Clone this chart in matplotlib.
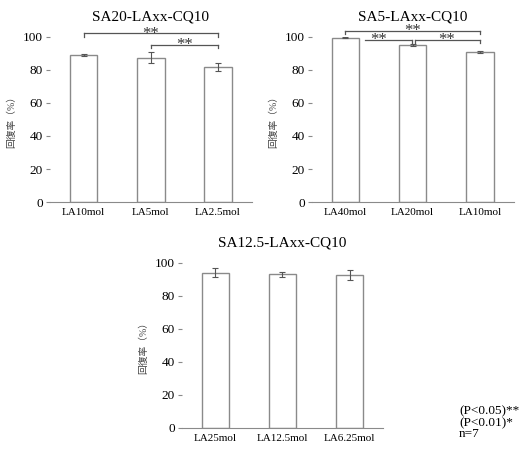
import matplotlib
matplotlib.use("Agg")
import matplotlib.pyplot as plt

plt.rcParams['font.family'] = ['Liberation Serif', 'Noto Sans CJK JP']

# data
titles = ["SA20-LAxx-CQ10", "SA5-LAxx-CQ10", "SA12.5-LAxx-CQ10"]
labels_a = ["LA10mol", "LA5mol", "LA2.5mol"]
values_a = [89.0, 87.4, 81.8]
errors_a = [0.8, 3.3, 2.5]

labels_b = ["LA40mol", "LA20mol", "LA10mol"]
values_b = [99.5, 95.2, 90.8]
errors_b = [0.3, 0.8, 0.6]

labels_c = ["LA25mol", "LA12.5mol", "LA6.25mol"]
values_c = [94.0, 93.0, 92.6]
errors_c = [2.7, 1.7, 3.0]

# significance brackets: (x start, x end, y, tick at start, tick at end, star x)
brackets_a = [(0, 2, 102.2, True, True, 1.0), (1, 2, 95.2, True, True, 1.5)]
brackets_b = [(0, 2, 103.6, True, True, 1.0), (0.29, 0.99, 98.2, False, True, 0.5),
              (1.03, 2, 98.2, True, True, 1.5)]

ylabel = "回復率（%）"
gray = "#8a8a8a"


def draw(ax, title, labels, values, errors, brackets=()):
    x = range(len(values))
    ax.bar(x, values, width=0.41, color="white", edgecolor=gray, linewidth=1.0)
    ax.errorbar(x, values, yerr=errors, fmt="none", ecolor="#555555",
                elinewidth=0.8, capsize=2, capthick=0.8)
    ax.set_xlim(-0.5, 2.5)
    ax.set_ylim(0, 100)
    ax.set_yticks(range(0, 101, 20))
    ax.set_xticks(list(x))
    ax.set_xticklabels(labels, fontsize=8)
    ax.tick_params(axis="x", length=0, pad=4)
    ax.tick_params(axis="y", length=3, color=gray, labelsize=9.5, pad=2)
    for s in ["top", "right", "left"]:
        ax.spines[s].set_visible(False)
    ax.spines["bottom"].set_color(gray)
    ax.set_ylabel(ylabel, fontsize=7, color="#444444", labelpad=5)
    ax.set_title(title, fontsize=11, pad=12)
    for x0, x1, y, t0, t1, sx in brackets:
        ax.plot([x0, x1], [y, y], color="#555555", lw=0.9, clip_on=False)
        if t0:
            ax.plot([x0, x0], [y, y - 2], color="#555555", lw=0.9, clip_on=False)
        if t1:
            ax.plot([x1, x1], [y, y - 2], color="#555555", lw=0.9, clip_on=False)
        ax.text(sx, y - 2.6, "**", ha="center", va="baseline", fontsize=12,
                color="#333333")


fig = plt.figure(figsize=(5.24, 4.5), dpi=100)
ax1 = fig.add_axes([0.0954, 0.551, 0.385, 0.367])
ax2 = fig.add_axes([0.595, 0.551, 0.385, 0.367])
ax3 = fig.add_axes([0.347, 0.049, 0.384, 0.367])

draw(ax1, titles[0], labels_a, values_a, errors_a, brackets_a)
draw(ax2, titles[1], labels_b, values_b, errors_b, brackets_b)
draw(ax3, titles[2], labels_c, values_c, errors_c)

fig.text(459 / 524, 1 - 411 / 450, "(P<0.05)**", fontsize=9.5, va="center")
fig.text(459 / 524, 1 - 423 / 450, "(P<0.01)*", fontsize=9.5, va="center")
fig.text(459 / 524, 1 - 434 / 450, "n=7", fontsize=9.5, va="center")

fig.savefig("out.png", dpi=100, facecolor="white")
